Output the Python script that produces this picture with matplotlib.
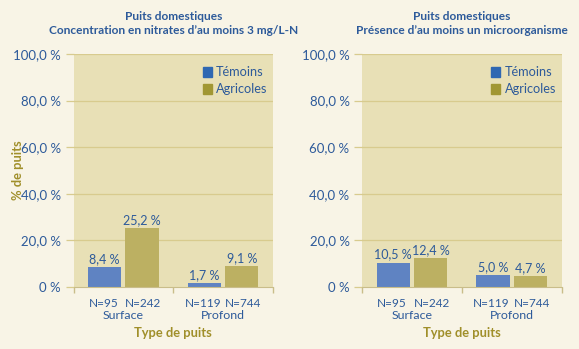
import numpy as np
import matplotlib
matplotlib.use('Agg')
import matplotlib.pyplot as plt
from matplotlib.patches import Rectangle

plt.rcParams['font.family'] = ['Lato', 'DejaVu Sans']

CATEGORIES = ['Surface', 'Profond']
SERIES = ['Témoins', 'Agricoles']
N_TEMOINS = [95, 119]
N_AGRICOLES = [242, 744]
NITRATES_TEMOINS = [8.4, 1.7]
NITRATES_AGRICOLES = [25.2, 9.1]
MICRO_TEMOINS = [10.5, 5.0]
MICRO_AGRICOLES = [12.4, 4.7]
TITLES = ['Puits domestiques\nConcentration en nitrates d\u2019au moins 3 mg/L-N',
          'Puits domestiques\nPr\u00e9sence d\u2019au moins un microorganisme']
YTICKS = [0, 20, 40, 60, 80, 100]

BG = '#f8f4e6'
PLOT_BG = '#e8e0b6'
GRID = '#d8cb8e'
BLUE_TXT = '#2d5a9a'
OLIVE_TXT = '#a08f2a'
C_TEM = '#5f83c2'
C_AGR = '#bcb062'
LEG_TEM = '#2f68b2'
LEG_AGR = '#a19733'

def fmt(v):
    return f"{v:.1f}".replace('.', ',') + ' %'

fig = plt.figure(figsize=(5.79, 3.49), dpi=100, facecolor=BG)
W, H = 579, 349
lefts = [73.5, 362]
panels = [(NITRATES_TEMOINS, NITRATES_AGRICOLES), (MICRO_TEMOINS, MICRO_AGRICOLES)]

for i, (tem, agr) in enumerate(panels):
    ax = fig.add_axes([lefts[i] / W, (H - 287) / H, 199.5 / W, 233 / H])
    ax.set_facecolor(PLOT_BG)
    x = np.arange(len(CATEGORIES)) + 0.5
    bw = 0.335
    ax.bar(x - 0.187, tem, bw, color=C_TEM, zorder=3)
    ax.bar(x + 0.187, agr, bw, color=C_AGR, zorder=3)
    for xi, v in zip(x - 0.187, tem):
        ax.text(xi, v + 0.9, fmt(v), ha='center', va='bottom', color=BLUE_TXT, fontsize=9, zorder=4)
    for xi, v in zip(x + 0.187, agr):
        ax.text(xi, v + 0.9, fmt(v), ha='center', va='bottom', color=BLUE_TXT, fontsize=9, zorder=4)
    ax.set_xlim(0, 2)
    ax.set_ylim(0, 100)
    ax.set_yticks(YTICKS)
    ax.set_yticklabels(['0 %'] + [fmt(v) for v in YTICKS[1:]])
    for y in YTICKS[1:]:
        ax.axhline(y, color=GRID, lw=0.9, zorder=1)
    ax.tick_params(axis='y', colors=GRID, labelcolor=BLUE_TXT, labelsize=9.5, length=6, width=0.9, pad=3)
    ax.set_xticks([0, 1, 2])
    ax.set_xticklabels([])
    ax.tick_params(axis='x', colors='#c9bd8a', length=4, width=1.0)
    for s in ['top', 'right', 'left']:
        ax.spines[s].set_visible(False)
    ax.spines['bottom'].set_color('#c9bd8a')
    ax.spines['bottom'].set_zorder(5)
    for j, c in enumerate(CATEGORIES):
        ax.text(x[j] - 0.2, -4.8, f"N={N_TEMOINS[j]}", ha='center', va='top', color=BLUE_TXT, fontsize=8.5,
                clip_on=False)
        ax.text(x[j] + 0.2, -4.8, f"N={N_AGRICOLES[j]}", ha='center', va='top', color=BLUE_TXT, fontsize=8.5,
                clip_on=False)
        ax.text(x[j], -9.9, c, ha='center', va='top', color=BLUE_TXT, fontsize=8.9, clip_on=False)
    cx = (lefts[i] + 99.75) / W
    fig.text(cx, 1 - 23.5 / H, TITLES[i], ha='center', va='center', color=BLUE_TXT, fontsize=8.6,
             fontweight='bold', linespacing=1.35)
    fig.text(cx, 1 - 333 / H, 'Type de puits', ha='center', va='center', color=OLIVE_TXT, fontsize=9.3,
             fontweight='bold')
    # legend
    for k, (lab, col) in enumerate(zip(SERIES, [LEG_TEM, LEG_AGR])):
        yy = 92.3 - k * 7.3
        ax.add_patch(Rectangle((1.298, yy - 2.1), 0.09, 4.2, color=col, zorder=4))
        ax.text(1.43, yy, lab, ha='left', va='center', color=BLUE_TXT, fontsize=9.2, zorder=4)

fig.text(18 / W, 1 - 170 / H, '% de puits', rotation=90, ha='center', va='center', color=OLIVE_TXT,
         fontsize=9.3, fontweight='bold')

fig.savefig('out.png', dpi=100, facecolor=BG)
